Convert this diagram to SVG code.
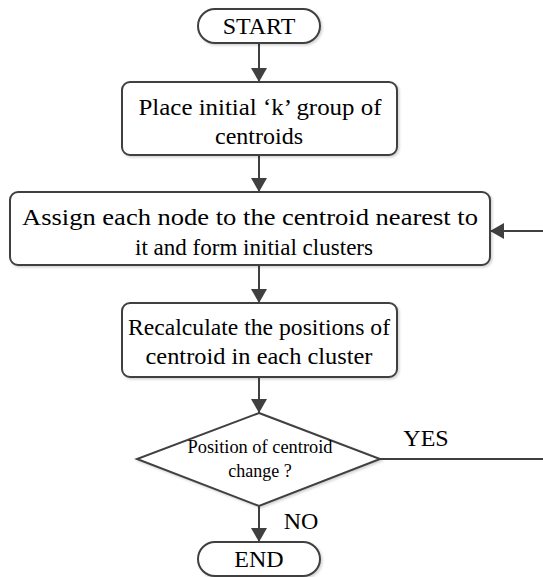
<svg xmlns="http://www.w3.org/2000/svg" width="543" height="577" viewBox="0 0 543 577">
  <defs>
    <marker id="arrow" viewBox="0 0 10 10" refX="10" refY="5" markerWidth="14" markerHeight="16" markerUnits="userSpaceOnUse" orient="auto" preserveAspectRatio="none">
      <path d="M0,0 L10,5 L0,10 Z" fill="#404040"/>
    </marker>
    <filter id="shadow" x="-5%" y="-5%" width="110%" height="120%">
      <feDropShadow dx="1.5" dy="1.5" stdDeviation="1" flood-color="#000" flood-opacity="0.18"/>
    </filter>
  </defs>
  <style>
    .shape { fill: #ffffff; stroke: #404040; stroke-width: 2; filter: url(#shadow); }
    .edge { fill: none; stroke: #404040; stroke-width: 2; }
    text { font-family: 'Liberation Serif', 'DejaVu Serif', serif; fill: #000; text-anchor: middle; }
    .big { font-size: 24px; }
    .small { font-size: 18px; }
  </style>
  <rect width="543" height="577" fill="#ffffff"/>

  <g id="connectors">
    <line class="edge" x1="259" y1="43" x2="259" y2="82" marker-end="url(#arrow)"/>
    <line class="edge" x1="259" y1="155" x2="259" y2="192" marker-end="url(#arrow)"/>
    <line class="edge" x1="259" y1="265" x2="259" y2="303" marker-end="url(#arrow)"/>
    <line class="edge" x1="259" y1="377" x2="259" y2="413" marker-end="url(#arrow)"/>
    <line class="edge" x1="259" y1="506" x2="259" y2="542" marker-end="url(#arrow)"/>
    <polyline class="edge" points="380,459 545,459"/>
    <line class="edge" x1="545" y1="231" x2="490" y2="231" marker-end="url(#arrow)"/>
    <text class="big" x="426" y="446">YES</text>
    <text class="big" x="301" y="529">NO</text>
  </g>

  <g id="start">
    <rect class="shape" x="198" y="9" width="122" height="34" rx="17"/>
    <text class="big" x="259" y="34">START</text>
  </g>

  <g id="place-centroids">
    <rect class="shape" x="122" y="82" width="275" height="73" rx="8"/>
    <text class="big" x="260" y="115" textLength="243" lengthAdjust="spacingAndGlyphs">Place initial ‘k’ group of</text>
    <text class="big" x="259" y="144">centroids</text>
  </g>

  <g id="assign-nodes">
    <rect class="shape" x="10" y="192" width="480" height="73" rx="8"/>
    <text class="big" x="250" y="225" textLength="456" lengthAdjust="spacingAndGlyphs">Assign each node to the centroid nearest to</text>
    <text class="big" x="254" y="255" textLength="238" lengthAdjust="spacingAndGlyphs">it and form initial clusters</text>
  </g>

  <g id="recalculate">
    <rect class="shape" x="122" y="303" width="275" height="74" rx="8"/>
    <text class="big" x="259" y="335" textLength="262" lengthAdjust="spacingAndGlyphs">Recalculate the positions of</text>
    <text class="big" x="259" y="364" textLength="227" lengthAdjust="spacingAndGlyphs">centroid in each cluster</text>
  </g>

  <g id="decision">
    <polygon class="shape" points="259,413 380,459 259,506 137,459"/>
    <text class="small" x="260" y="453" textLength="145" lengthAdjust="spacingAndGlyphs">Position of centroid</text>
    <text class="small" x="260" y="477">change ?</text>
  </g>

  <g id="end">
    <rect class="shape" x="198" y="542" width="122" height="34" rx="17"/>
    <text class="big" x="259" y="567">END</text>
  </g>
</svg>
